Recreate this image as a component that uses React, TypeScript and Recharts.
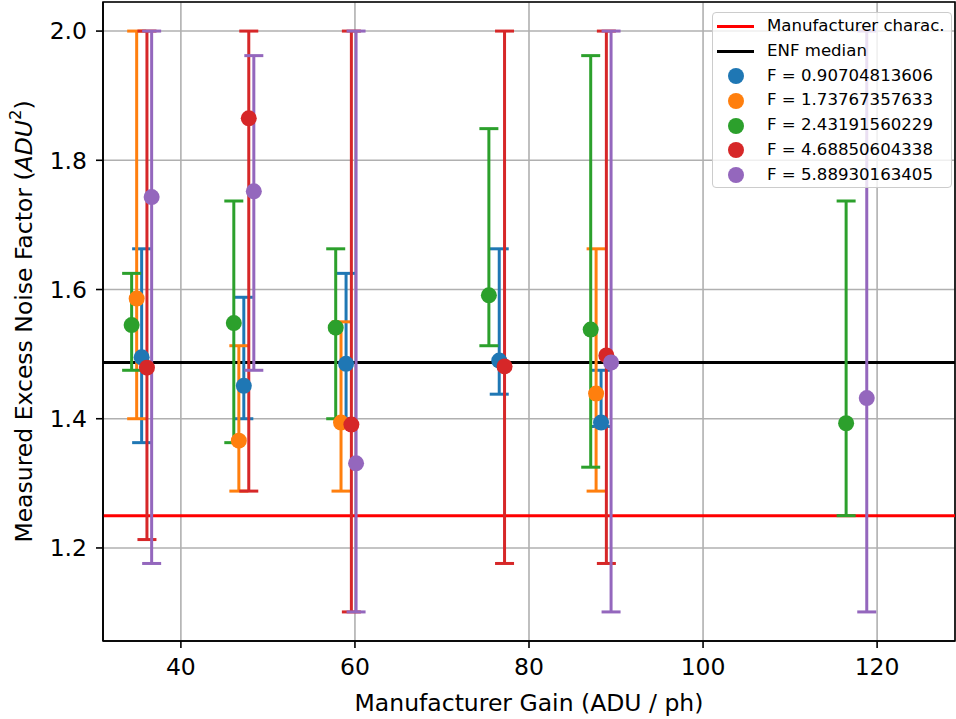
import React from "react";
import {
  ComposedChart,
  Scatter,
  ErrorBar,
  XAxis,
  YAxis,
  CartesianGrid,
  ReferenceLine,
  ReferenceArea,
  Legend,
} from "recharts";

const seriesNames = [
  "F = 0.90704813606",
  "F = 1.73767357633",
  "F = 2.43191560229",
  "F = 4.68850604338",
  "F = 5.88930163405",
];
const seriesColors = ["#1f77b4", "#ff7f0e", "#2ca02c", "#d62728", "#9467bd"];

const blueX = [35.49, 47.23, 58.98, 76.58, 88.28];
const blueY = [1.495, 1.451, 1.485, 1.49, 1.394];
const blueLo = [1.363, 1.4, 1.4, 1.438, 1.388];
const blueHi = [1.663, 1.588, 1.625, 1.663, 1.475];

const orangeX = [34.92, 46.66, 58.4, 87.71];
const orangeY = [1.586, 1.366, 1.394, 1.439];
const orangeLo = [1.4, 1.288, 1.288, 1.288];
const orangeHi = [2.0, 1.513, 1.55, 1.663];

const greenX = [34.34, 46.08, 57.79, 75.39, 87.09, 116.44];
const greenY = [1.545, 1.548, 1.541, 1.591, 1.538, 1.393];
const greenLo = [1.475, 1.363, 1.4, 1.513, 1.325, 1.25];
const greenHi = [1.625, 1.737, 1.663, 1.849, 1.962, 1.737];

const redX = [36.1, 47.8, 59.59, 77.19, 88.89];
const redY = [1.479, 1.865, 1.391, 1.481, 1.498];
const redLo = [1.213, 1.288, 1.101, 1.176, 1.176];
const redHi = [2.0, 2.0, 2.0, 2.0, 2.0];

const purpleX = [36.64, 48.38, 60.13, 89.43, 118.81];
const purpleY = [1.743, 1.752, 1.331, 1.487, 1.432];
const purpleLo = [1.176, 1.475, 1.101, 1.101, 1.101];
const purpleHi = [2.0, 1.962, 2.0, 2.0, 2.0];

const manufacturerENF = 1.25;
const medianENF = 1.487;

const xTicks = [40, 60, 80, 100, 120];
const yTicks = [1.2, 1.4, 1.6, 1.8, 2.0];
const xDomain = [31.05, 128.95];
const yDomain = [1.056, 2.045];

const build = (xs: number[], ys: number[], lo: number[], hi: number[]) =>
  xs.map((x, i) => ({ x, y: ys[i], err: [ys[i] - lo[i], hi[i] - ys[i]] }));

const seriesData = [
  build(blueX, blueY, blueLo, blueHi),
  build(orangeX, orangeY, orangeLo, orangeHi),
  build(greenX, greenY, greenLo, greenHi),
  build(redX, redY, redLo, redHi),
  build(purpleX, purpleY, purpleLo, purpleHi),
];

const FONT = "'DejaVu Sans', sans-serif";

const LegendBox = () => {
  const rowH = 24.8;
  const rows: React.ReactNode[] = [];
  const lineItems = [
    { name: "Manufacturer charac.", color: "#ff0000" },
    { name: "ENF median", color: "#000000" },
  ];
  lineItems.forEach((it, i) => {
    rows.push(
      <div key={"l" + i} style={{ height: rowH, display: "flex", alignItems: "center" }}>
        <div style={{ width: 37, height: 3, background: it.color, marginLeft: 4, marginRight: 13 }} />
        <span>{it.name}</span>
      </div>
    );
  });
  seriesNames.forEach((n, i) => {
    rows.push(
      <div key={"s" + i} style={{ height: rowH, display: "flex", alignItems: "center" }}>
        <div style={{ width: 37, marginLeft: 4, marginRight: 13, display: "flex", justifyContent: "center" }}>
          <div style={{ width: 16, height: 16, borderRadius: 8, background: seriesColors[i] }} />
        </div>
        <span>{n}</span>
      </div>
    );
  });
  return (
    <div
      style={{
        boxSizing: "border-box",
        width: 240,
        height: 176,
        border: "1.3px solid #cccccc",
        borderRadius: 4,
        background: "rgba(255,255,255,0.8)",
        fontFamily: FONT,
        fontSize: 16.6,
        color: "#000",
        paddingTop: 1,
        lineHeight: 1,
      }}
    >
      {rows}
    </div>
  );
};

const YLabel = (props: any) => {
  const vb = props.viewBox || { x: 0, y: 0, width: 0, height: 0 };
  const cx = vb.x + 24;
  const cy = vb.y + vb.height / 2;
  return (
    <text
      x={cx}
      y={cy}
      transform={`rotate(-90, ${cx}, ${cy})`}
      textAnchor="middle"
      dominantBaseline="central"
      fontFamily={FONT}
      fontSize={23.5}
      fill="#000"
    >
      <tspan>Measured Excess Noise Factor (</tspan>
      <tspan fontStyle="italic">ADU</tspan>
      <tspan dy={-9} fontSize={16.5}>2</tspan>
      <tspan dy={9}>)</tspan>
    </text>
  );
};

export default function App() {
  return (
    <div style={{ position: "absolute", left: 0, top: 0, background: "#fff" }}>
      <ComposedChart
        width={956}
        height={719}
        margin={{ top: 2, right: 1, bottom: 0, left: 0 }}
      >
        <CartesianGrid stroke="#b0b0b0" strokeWidth={1.6} />
        <XAxis
          type="number"
          dataKey="x"
          domain={xDomain}
          allowDataOverflow
          ticks={xTicks}
          height={78}
          tickSize={7}
          tickMargin={10}
          stroke="#000"
          axisLine={{ stroke: "#000", strokeWidth: 1.6 }}
          tickLine={{ stroke: "#000", strokeWidth: 1.6 }}
          tick={{ fill: "#000", fontFamily: FONT, fontSize: 23.5 }}
          label={{
            value: "Manufacturer Gain (ADU / ph)",
            position: "insideBottom",
            offset: 8,
            fill: "#000",
            fontFamily: FONT,
            fontSize: 23.5,
          }}
        />
        <YAxis
          type="number"
          dataKey="y"
          domain={yDomain}
          allowDataOverflow
          ticks={yTicks}
          width={103}
          tickSize={7}
          tickMargin={9}
          tickFormatter={(v: number) => v.toFixed(1)}
          axisLine={{ stroke: "#000", strokeWidth: 1.6 }}
          tickLine={{ stroke: "#000", strokeWidth: 1.6 }}
          tick={{ fill: "#000", fontFamily: FONT, fontSize: 23.5 }}
          label={{ content: YLabel }}
        />
        <ReferenceLine y={manufacturerENF} stroke="#ff0000" strokeWidth={3} />
        <ReferenceLine y={medianENF} stroke="#000000" strokeWidth={3} />
        {seriesData.map((d, i) => (
          <Scatter
            key={i}
            name={seriesNames[i]}
            data={d}
            fill={seriesColors[i]}
            isAnimationActive={false}
            shape={(p: any) => <circle cx={p.cx} cy={p.cy} r={8} fill={seriesColors[i]} />}
          >
            <ErrorBar
              dataKey="err"
              direction="y"
              width={9.5}
              stroke={seriesColors[i]}
              strokeWidth={3}
              isAnimationActive={false}
            />
          </Scatter>
        ))}
        <ReferenceArea
          x1={xDomain[0]}
          x2={xDomain[1]}
          y1={yDomain[0]}
          y2={yDomain[1]}
          fill="none"
          fillOpacity={0}
          stroke="#000"
          strokeWidth={1.6}
          ifOverflow="visible"
        />
        <Legend
          layout="vertical"
          align="center"
          verticalAlign="middle"
          content={() => <LegendBox />}
          wrapperStyle={{ position: "absolute", left: 712, top: 12, width: 240, height: 176 }}
        />
      </ComposedChart>
    </div>
  );
}
